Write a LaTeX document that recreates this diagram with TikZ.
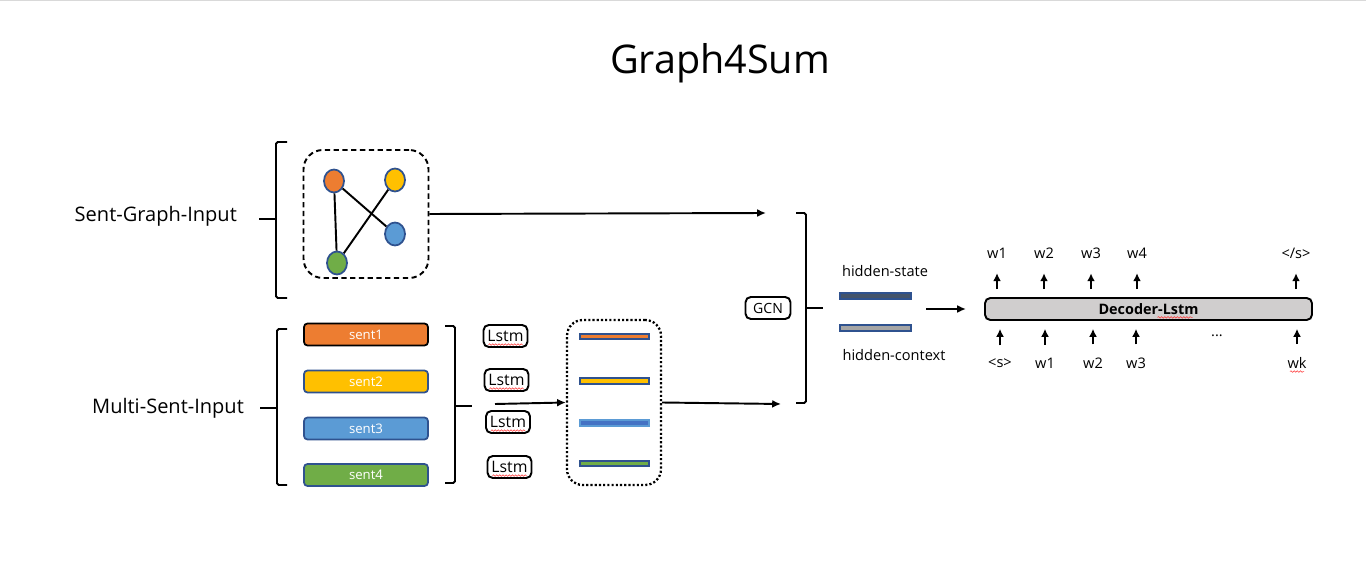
\documentclass[tikz,border=0pt]{standalone}
\usepackage{fontspec}
\setmainfont{Open Sans}
\usepackage{xcolor}
\usepackage{tikz}
\usetikzlibrary{arrows.meta,shapes.geometric,decorations.pathmorphing,calc}

\definecolor{ofOrange}{HTML}{ED7D31}
\definecolor{ofYellow}{HTML}{FFC000}
\definecolor{ofBlue}{HTML}{5B9BD5}
\definecolor{ofDeep}{HTML}{4472C4}
\definecolor{ofGreen}{HTML}{70AD47}
\definecolor{ofDark}{HTML}{2F528F}
\definecolor{ofSlate}{HTML}{44546A}
\definecolor{ofGray}{HTML}{A5A5A5}
\definecolor{ofLight}{HTML}{D0CECE}
\def\px{0.02cm}

\begin{document}
\begin{tikzpicture}[x=0.02cm,y=-0.02cm,
  every node/.style={font=\fontsize{8.3}{9}\selectfont},
  link/.style={line width=1.1pt,-{Latex[length=5pt,width=4.5pt]}},
  upto/.style={line width=1.1pt,-{Latex[length=4.5pt,width=4.5pt]}},
  brk/.style={line width=1.1pt,rounded corners=1pt},
  gnode/.style={ellipse,draw=ofDark,line width=1pt,minimum width=20*\px,minimum height=23*\px,inner sep=0pt},
  sentbox/.style={rounded corners=2pt,draw=ofDark,line width=1pt,minimum width=124*\px,minimum height=22*\px,inner sep=0pt,text=white,font=\fontsize{7.5}{8}\selectfont},
  lstmbox/.style={rounded corners=3pt,draw,line width=1.1pt,minimum width=44*\px,minimum height=22*\px,inner sep=0pt,font=\fontsize{9}{10}\selectfont},
  hbar/.style={draw=ofDark,line width=1pt},
  squig/.style={red!80!white,line width=0.3pt,decorate,decoration={snake,amplitude=0.45pt,segment length=1.8pt}}]

\useasboundingbox (0,0) rectangle (1366,567);
\draw[black!15,line width=0.6pt] (0,0.5) -- (1366,0.5);

% =====================
% Title
% =====================
\node[font=\fontsize{22.5}{26}\selectfont] (title) at (720,63) {Graph4Sum};

% =====================
% Sent-Graph-Input (upper branch)
% =====================
\node[anchor=east,font=\fontsize{11.4}{13}\selectfont] (gLabel) at (243,216) {Sent-Graph-Input};
\draw[brk] (287,142) -- (276,142) -- (276,298) -- (287,298);
\draw[brk] (259,219) -- (276,219);

\node[draw,dashed,dash pattern=on 3pt off 2pt,line width=1.1pt,rounded corners=11pt,
      minimum width=125*\px,minimum height=128*\px] (gbox) at (366,214) {};

\node[gnode,fill=ofOrange] (nO) at (334,181) {};
\node[gnode,fill=ofYellow] (nY) at (395,180) {};
\node[gnode,fill=ofBlue]   (nB) at (395,234) {};
\node[gnode,fill=ofGreen]  (nG) at (337,263) {};
\draw[line width=1.1pt] (nO) -- (nG);
\draw[line width=1.1pt] (nO) -- (nB);
\draw[line width=1.1pt] (nY) -- (nG);

\coordinate (gEnd) at (766,213);
\draw[link] (gbox.east) -- (gEnd);

% =====================
% Multi-Sent-Input (lower branch)
% =====================
\node[anchor=east,font=\fontsize{11.4}{13}\selectfont] (mLabel) at (250,408) {Multi-Sent-Input};
\draw[brk] (287,329) -- (277,329) -- (277,485) -- (287,485);
\draw[brk] (260,408) -- (277,408);

\node[sentbox,fill=ofOrange,draw=black] (s1) at (366,334.5) {sent1};
\node[sentbox,fill=ofYellow] (s2) at (366,381.5) {sent2};
\node[sentbox,fill=ofBlue]   (s3) at (366,428.5) {sent3};
\node[sentbox,fill=ofGreen]  (s4) at (366,475) {sent4};

\draw[brk] (445,326) -- (455,326) -- (455,483) -- (445,483);
\draw[brk] (455,406) -- (472,406);

% Lstm encoders
\node[lstmbox] (l1) at (505.5,336) {Lstm};
\node[lstmbox] (l2) at (506.5,380) {Lstm};
\node[lstmbox] (l3) at (508,422) {Lstm};
\node[lstmbox] (l4) at (509.5,467) {Lstm};
\foreach \n in {l1,l2,l3,l4}
  \draw[squig] ($(\n.base)+(-17,3)$) -- ($(\n.base)+(17,3)$);

\coordinate (mStart) at (495,404);
\node[draw,dotted,dash pattern=on 1.2pt off 1.2pt,line width=1.3pt,rounded corners=9pt,
      minimum width=94*\px,minimum height=165*\px] (dbox) at (614,402.5) {};
\draw[link] (mStart) -- (dbox.west);

\draw[hbar,fill=ofOrange] (580,334) rectangle (649,339);
\draw[hbar,fill=ofYellow] (580,378) rectangle (649,384);
\draw[hbar,fill=ofDeep,draw=ofBlue] (580,420) rectangle (649,426);
\draw[hbar,fill=ofGreen]  (580,461) rectangle (649,466);

\coordinate (mEnd) at (781,404);
\draw[link] (dbox.east) -- (mEnd);

% =====================
% GCN merge
% =====================
\draw[brk] (796,213) -- (806,213) -- (806,403) -- (796,403);
\draw[brk] (806,308) -- (823,308);
\node[rounded corners=3pt,draw,line width=1.1pt,minimum width=45*\px,minimum height=22*\px,inner sep=0pt,
      font=\fontsize{8}{9}\selectfont] (gcn) at (768,308) {GCN};

\node (hsLabel) at (885,271) {hidden-state};
\draw[hbar,fill=ofSlate] (840,293) rectangle (911,299);
\draw[hbar,fill=ofGray]  (840,325) rectangle (911,331);
\node (hcLabel) at (894,355) {hidden-context};

\coordinate (hStart) at (926,309);
\coordinate (hEnd) at (966,309);
\draw[link] (hStart) -- (hEnd);

% =====================
% Decoder
% =====================
\node[draw,fill=ofLight,line width=1.1pt,rounded corners=3pt,minimum width=327*\px,minimum height=22*\px,
      inner sep=0pt,font=\fontsize{8.2}{9}\selectfont\bfseries] (dec) at (1148.5,309) {Decoder-Lstm};
\draw[squig] ($(dec.base)+(9,3)$) -- ($(dec.base)+(44,3)$);

\foreach \x/\t [count=\i] in {997/w1,1044/w2,1091/w3,1137/w4,1296/{</s>}}
{
  \node (o\i) at (\x,253) {\t};
  \draw[upto,shorten <=4.5pt,shorten >=5pt] (dec.north -| o\i) -- (o\i.south);
}
\foreach \x/\t [count=\i] in {1000/{<s>},1045/w1,1093/w2,1136/w3,1297/wk}
{
  \node (b\i) at (\x,363) {\t};
  \draw[upto,shorten <=4pt,shorten >=4.5pt] (b\i.north) -- (dec.south -| b\i);
}
\draw[squig] ($(b5.base)+(-7,3)$) -- ($(b5.base)+(7,3)$);
\node (dots) at (1217,336) {...};

\end{tikzpicture}
\end{document}
